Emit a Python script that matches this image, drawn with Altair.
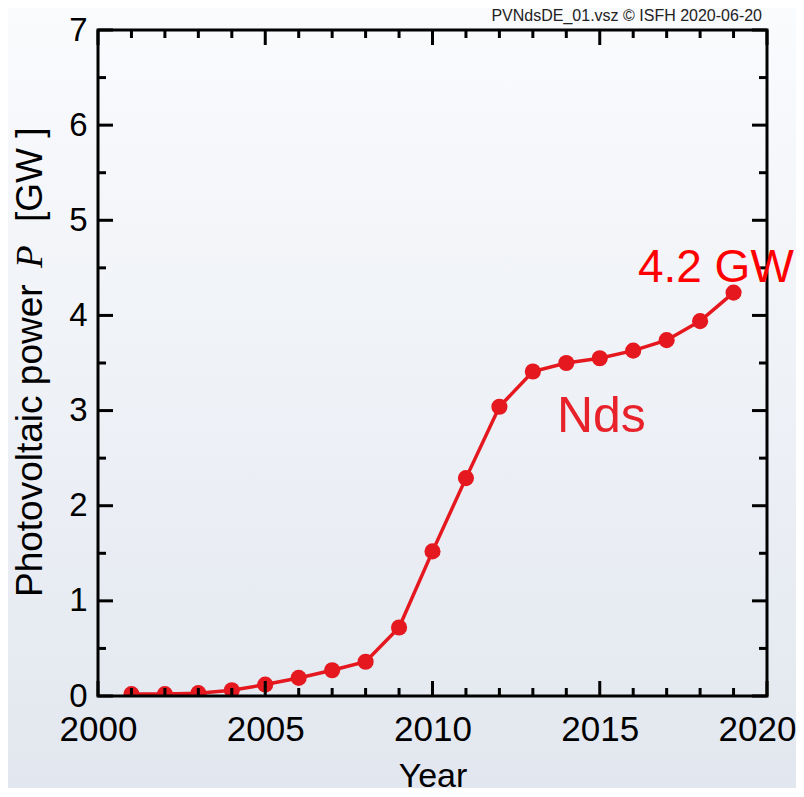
import altair as alt
import pandas as pd

# ---- data ----
years = list(range(2001, 2020))
power_gw = [0.02, 0.02, 0.03, 0.06, 0.12, 0.19, 0.27, 0.36, 0.72, 1.52,
            2.29, 3.04, 3.41, 3.50, 3.55, 3.63, 3.74, 3.94, 4.24]

x_major = [2000, 2005, 2010, 2015, 2020]
x_minor = [y for y in range(2001, 2020) if y % 5 != 0]
y_major = [0, 1, 2, 3, 4, 5, 6, 7]
y_minor = [0.5, 1.5, 2.5, 3.5, 4.5, 5.5, 6.5]

annot_text = ["4.2 GW", "Nds"]
annot_x = [2016.14, 2013.72]
annot_y = [4.355, 2.77]
annot_size = [46, 50]
annot_color = ["#ff0000", "#e8222a"]

footer = "PVNdsDE_01.vsz \u00a9 ISFH 2020-06-20"

W, H = 669, 666
FONT = "Liberation Sans"
RED = "#e4181e"

xs = alt.Scale(domain=[2000, 2020], nice=False, zero=False)
ys = alt.Scale(domain=[0, 7], nice=False, zero=True)

df = pd.DataFrame({"year": years, "power": power_gw})
one = pd.DataFrame({"k": [0]})

bg = alt.Chart(one).mark_rect(
    color=alt.Gradient(
        gradient="linear",
        stops=[alt.GradientStop(color="#fafbfd", offset=0),
               alt.GradientStop(color="#e2e7ef", offset=1)],
        x1=0, x2=0, y1=0, y2=1,
    )
).encode(x=alt.value(-90), x2=alt.value(W + 29), y=alt.value(-22), y2=alt.value(H + 92))

line = alt.Chart(df).mark_line(color=RED, strokeWidth=3.5, clip=True).encode(
    x=alt.X("year:Q", scale=xs, axis=alt.Axis(
        values=x_major, format="d", grid=False, domain=False, ticks=False, tickSize=0,
        labelFont=FONT, labelFontSize=35, labelColor="black", labelFlush=False,
        labelBaseline="alphabetic", labelPadding=44, labelOverlap=False,
        labelOffset=alt.condition("datum.value == 2020", alt.value(-10), alt.value(0)),
        title="Year", titleFont=FONT, titleFontSize=34, titleFontWeight="normal",
        titleColor="black", titleBaseline="alphabetic", titleY=90, zindex=5,
    )),
    y=alt.Y("power:Q", scale=ys, axis=alt.Axis(
        values=y_major, format="d", grid=False, domain=False, ticks=False, tickSize=0,
        labelFont=FONT, labelFontSize=33, labelColor="black", labelFlush=False,
        labelPadding=11, labelBaseline="middle", labelOverlap=False, title="", zindex=5,
    )),
)

points = alt.Chart(df).mark_circle(color=RED, size=260, opacity=1, clip=True).encode(
    x=alt.X("year:Q", scale=xs),
    y=alt.Y("power:Q", scale=ys),
)


def xticks(vals, length):
    d = pd.DataFrame({"v": vals})
    base = alt.Chart(d).mark_rule(color="black", strokeWidth=3)
    bottom = base.encode(x=alt.X("v:Q", scale=xs), y=alt.value(H), y2=alt.value(H - length))
    top = base.encode(x=alt.X("v:Q", scale=xs), y=alt.value(0), y2=alt.value(length))
    return [bottom, top]


def yticks(vals, length):
    d = pd.DataFrame({"v": vals})
    base = alt.Chart(d).mark_rule(color="black", strokeWidth=3)
    left = base.encode(y=alt.Y("v:Q", scale=ys), x=alt.value(0), x2=alt.value(length))
    right = base.encode(y=alt.Y("v:Q", scale=ys), x=alt.value(W), x2=alt.value(W - length))
    return [left, right]


ticks = xticks(x_major, 15) + xticks(x_minor, 8) + yticks(y_major, 15) + yticks(y_minor, 8)

frame = alt.Chart(one).mark_rect(filled=False, stroke="black", strokeWidth=3).encode(
    x=alt.value(0), x2=alt.value(W), y=alt.value(0), y2=alt.value(H)
)

ann_df = pd.DataFrame({"t": annot_text, "x": annot_x, "y": annot_y,
                       "s": annot_size, "c": annot_color})
annots = alt.Chart(ann_df).mark_text(align="left", baseline="alphabetic", font=FONT).encode(
    x=alt.X("x:Q", scale=xs),
    y=alt.Y("y:Q", scale=ys),
    text="t:N",
    size=alt.Size("s:Q", scale=None, legend=None),
    color=alt.Color("c:N", scale=None, legend=None),
)

ytitle1 = alt.Chart(one).mark_text(text="Photovoltaic power", angle=270, align="left",
                                   baseline="alphabetic", font=FONT, fontSize=37,
                                   color="black").encode(x=alt.value(-56), y=alt.value(567))
ytitle2 = alt.Chart(one).mark_text(text="P", angle=270, align="left", baseline="alphabetic",
                                   font="Liberation Serif", fontStyle="italic", fontSize=37,
                                   color="black").encode(x=alt.value(-56), y=alt.value(238))
ytitle3 = alt.Chart(one).mark_text(text="[GW ]", angle=270, align="left", baseline="alphabetic",
                                   font=FONT, fontSize=37,
                                   color="black").encode(x=alt.value(-56), y=alt.value(192))

foot = alt.Chart(one).mark_text(text=footer, align="right", baseline="alphabetic", font=FONT,
                                fontSize=16, color="#222222").encode(x=alt.value(664), y=alt.value(-9))

chart = alt.layer(bg, line, points, *ticks, frame, annots, ytitle1, ytitle2, ytitle3, foot).properties(
    width=W, height=H,
    autosize=alt.AutoSizeParams(type="none"),
    padding={"left": 90, "top": 22, "right": 29, "bottom": 92},
    background="#eef1f6",
).configure_view(stroke=None)

chart.save("out.html", embed_options={"renderer": "svg", "actions": False})
